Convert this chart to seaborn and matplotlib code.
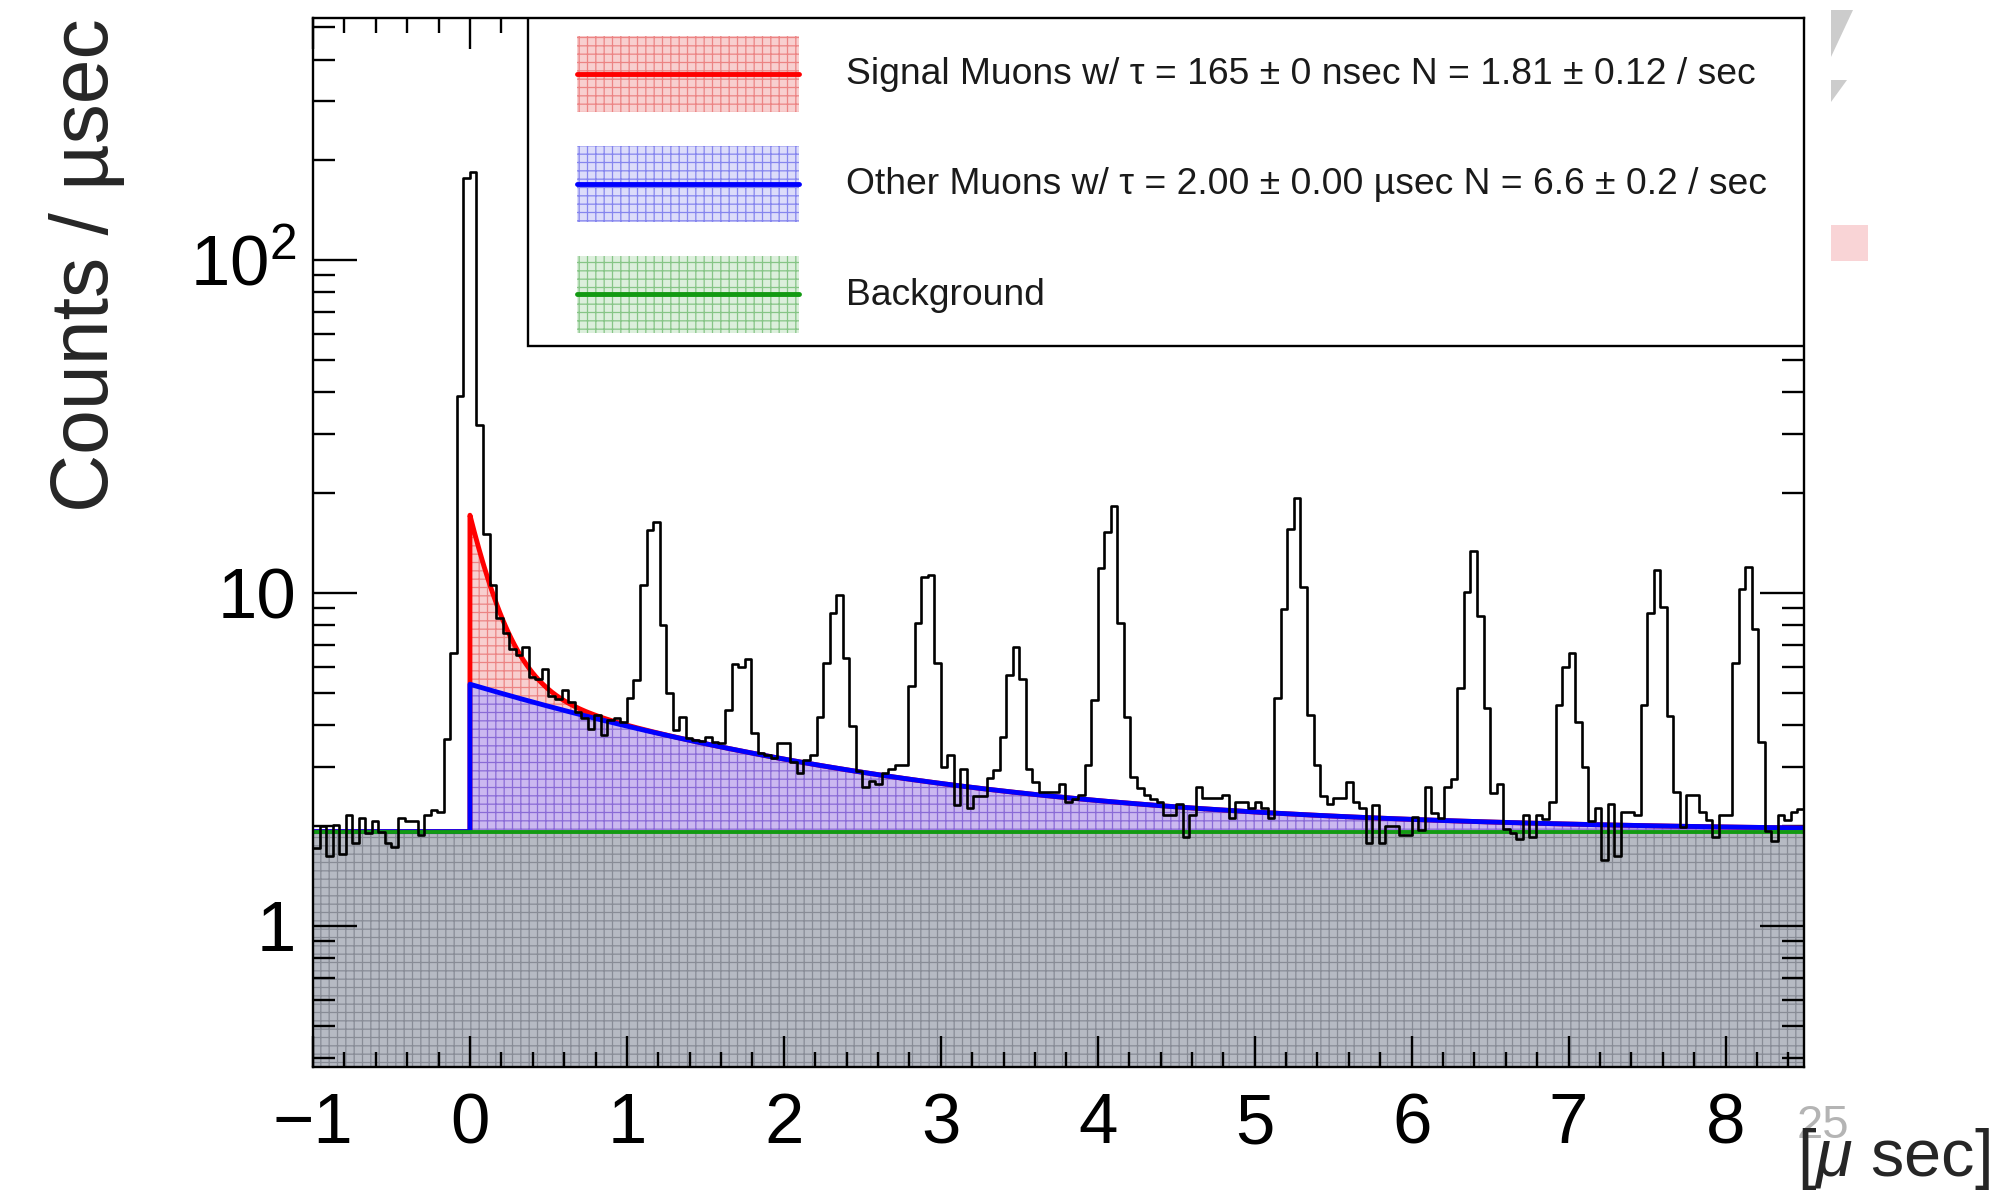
import numpy as np
import pandas as pd
import matplotlib
matplotlib.use("Agg")
import matplotlib.pyplot as plt
from matplotlib.patches import Rectangle, Polygon
from matplotlib.lines import Line2D
from matplotlib.legend_handler import HandlerBase
from matplotlib.ticker import FixedLocator, FuncFormatter, MultipleLocator, NullFormatter
import seaborn as sns

sns.set_style("ticks")
plt.rcParams["font.family"] = ["Liberation Sans", "DejaVu Sans"]
plt.rcParams["mathtext.fontset"] = "custom"
plt.rcParams["mathtext.rm"] = "Liberation Sans"
plt.rcParams["mathtext.it"] = "Liberation Sans:italic"
plt.rcParams["hatch.linewidth"] = 0.9
plt.rcParams["axes.unicode_minus"] = True

# ---- decay-time histogram: counts / µsec, 24 bins per µsec from -1 to 8.5 µsec ----
T_MIN, T_MAX = -1.0, 8.5

counts_neg1 = [1.72, 1.99, 1.62, 2.01, 1.65, 2.15, 1.77, 2.11, 1.90, 2.06, 1.92, 1.77,
               1.73, 2.11, 2.06, 2.06, 1.88, 2.15, 2.23, 2.20, 3.65, 6.6, 39.0, 176.0]
counts_0 = [184.0, 32.0, 15.0, 10.6, 8.4, 7.6, 6.8, 6.5, 6.9, 5.6, 5.5, 5.9,
            4.9, 4.8, 5.1, 4.7, 4.4, 4.2, 3.9, 4.3, 3.75, 4.16, 4.2, 4.1]
counts_1 = [4.84, 5.48, 10.6, 15.5, 16.3, 8.0, 5.0, 3.88, 4.24, 3.67, 3.62, 3.6,
            3.7, 3.56, 3.55, 4.45, 6.1, 6.0, 6.35, 3.8, 3.3, 3.26, 3.2, 3.55]
counts_2 = [3.55, 3.1, 2.88, 3.15, 3.26, 4.25, 6.17, 8.73, 9.86, 6.36, 3.98, 2.91,
            2.62, 2.72, 2.66, 2.87, 2.97, 3.04, 3.04, 5.26, 8.1, 11.2, 11.3, 6.15]
counts_3 = [3.0, 3.26, 2.31, 2.95, 2.26, 2.45, 2.45, 2.78, 2.94, 3.7, 5.67, 6.9,
            5.5, 2.97, 2.7, 2.53, 2.53, 2.53, 2.66, 2.36, 2.4, 2.47, 3.04, 4.77]
counts_4 = [11.9, 15.2, 18.3, 8.1, 4.23, 2.8, 2.59, 2.47, 2.4, 2.36, 2.15, 2.15,
            2.33, 1.85, 2.15, 2.62, 2.42, 2.42, 2.42, 2.47, 2.11, 2.36, 2.36, 2.26]
counts_5 = [2.36, 2.26, 2.11, 4.83, 8.97, 15.6, 19.3, 10.4, 4.3, 3.04, 2.45, 2.33,
            2.42, 2.42, 2.71, 2.36, 2.26, 1.77, 2.31, 1.77, 1.99, 1.99, 1.88, 1.88]
counts_6 = [2.13, 1.94, 2.62, 2.18, 2.11, 2.62, 2.76, 5.2, 10.1, 13.4, 8.5, 4.5,
            2.5, 2.66, 1.96, 1.9, 1.83, 2.15, 1.85, 2.15, 2.1, 2.36, 4.6, 6.0]
counts_7 = [6.6, 4.1, 3.0, 2.06, 2.26, 1.58, 2.33, 1.62, 2.2, 2.2, 2.15, 4.6,
            8.7, 11.7, 9.1, 4.26, 2.53, 1.98, 2.47, 2.47, 2.2, 2.08, 1.85, 2.15]
counts_8 = [2.15, 6.15, 10.3, 12.0, 7.8, 3.58, 1.93, 1.8, 2.15, 2.08, 2.2, 2.25]

# ---- fit components ----
TAU_SIGNAL = 0.165   # µsec
TAU_OTHER = 2.00     # µsec
BKG_LEVEL = 1.92
AMP_OTHER = 3.40
AMP_SIGNAL = 11.8

legend_labels = [
    "Signal Muons w/ \u03c4 = 165 \u00b1 0 nsec N = 1.81 \u00b1 0.12 / sec",
    "Other Muons w/ \u03c4 = 2.00 \u00b1 0.00 \u00b5sec N = 6.6 \u00b1 0.2 / sec",
    "Background",
]

x_ticks = [-1, 0, 1, 2, 3, 4, 5, 6, 7, 8]
y_ticks = [1, 10, 100]
y_tick_text = {1: "1", 10: "10", 100: "$10^{2}$"}
Y_LO, Y_HI = 0.377, 533.0

RED, BLUE, GREEN = "#ff0000", "#0000ff", "#129a12"
GRAY_FACE, GRAY_HATCH = "#b6bac3", "#888c96"
PURPLE_FACE, PURPLE_HATCH = "#cbb8f0", "#8a6bd6"
PINK_FACE, PINK_HATCH = "#f8cfcf", "#ec8484"

counts = np.array(counts_neg1 + counts_0 + counts_1 + counts_2 + counts_3 +
                  counts_4 + counts_5 + counts_6 + counts_7 + counts_8)
edges = np.linspace(T_MIN, T_MAX, len(counts) + 1)
centers = 0.5 * (edges[:-1] + edges[1:])
hist_df = pd.DataFrame({"t": centers, "rate": counts})

t = np.linspace(0.0, T_MAX, 900)
bkg_curve = np.full_like(t, BKG_LEVEL)
other_curve = bkg_curve + AMP_OTHER * np.exp(-t / TAU_OTHER)
signal_curve = other_curve + AMP_SIGNAL * np.exp(-t / TAU_SIGNAL)


class FitBand:
    """Legend key: hatched band with the fit line through its middle."""
    def __init__(self, face, hatch_color, line_color):
        self.face, self.hatch_color, self.line_color = face, hatch_color, line_color


class FitBandHandler(HandlerBase):
    def create_artists(self, legend, orig_handle, xdescent, ydescent, width, height,
                       fontsize, trans):
        x0, y0 = -xdescent, -ydescent
        band = Rectangle((x0, y0), width, height, facecolor=orig_handle.face,
                         edgecolor=orig_handle.hatch_color, hatch="++", linewidth=0,
                         transform=trans)
        yc = y0 + height / 2
        line = Line2D([x0, x0 + width], [yc, yc], color=orig_handle.line_color, lw=3.5,
                      transform=trans)
        return [band, line]


fig = plt.figure(figsize=(19.97, 11.96), dpi=100)
ax = fig.add_axes([313 / 1997, 1 - 1067 / 1196, 1491 / 1997, 1049 / 1196])
ax.set_axisbelow("line")

# stacked fit regions
ax.fill_between([T_MIN, T_MAX], Y_LO * 0.5, BKG_LEVEL, facecolor=GRAY_FACE,
                edgecolor=GRAY_HATCH, hatch="++", linewidth=0, zorder=1)
ax.fill_between(t, bkg_curve, other_curve, facecolor=PURPLE_FACE,
                edgecolor=PURPLE_HATCH, hatch="++", linewidth=0, zorder=1)
ax.fill_between(t, other_curve, signal_curve, facecolor=PINK_FACE,
                edgecolor=PINK_HATCH, hatch="++", linewidth=0, zorder=1)

# fit curves, flat at the background level before t = 0
x_line = np.concatenate([[T_MIN, 0.0], t])
ax.plot(x_line, np.concatenate([[BKG_LEVEL] * 2, signal_curve]), color=RED, lw=3.5, zorder=2)
ax.plot(x_line, np.concatenate([[BKG_LEVEL] * 2, other_curve]), color=BLUE, lw=3.5, zorder=2.1)
ax.plot([T_MIN, T_MAX], [BKG_LEVEL, BKG_LEVEL], color=GREEN, lw=2.8, zorder=2.2)

# data histogram
sns.histplot(data=hist_df, x="t", weights="rate", bins=edges.tolist(), element="step",
             fill=False, color="black", linewidth=1.9, zorder=3, ax=ax)

ax.set_yscale("log")
ax.set_xlim(T_MIN, T_MAX)
ax.set_ylim(Y_LO, Y_HI)

ax.xaxis.set_major_locator(FixedLocator(x_ticks))
ax.xaxis.set_minor_locator(MultipleLocator(0.2))
ax.yaxis.set_major_locator(FixedLocator(y_ticks))
minor_y = [v * d for d in (0.1, 1, 10, 100) for v in range(2, 10)]
ax.yaxis.set_minor_locator(FixedLocator([m for m in minor_y if Y_LO < m < Y_HI]))
ax.yaxis.set_major_formatter(FuncFormatter(lambda v, p: y_tick_text.get(int(round(v)), "")))
ax.yaxis.set_minor_formatter(NullFormatter())

ax.tick_params(which="both", direction="in", top=True, right=True, width=1.7, colors="black")
ax.tick_params(axis="x", which="major", length=22.5, labelsize=51, pad=18)
ax.tick_params(axis="x", which="minor", length=11)
ax.tick_params(axis="y", which="major", length=32, labelsize=51, pad=12)
ax.tick_params(axis="y", which="minor", length=16)
for s in ax.spines.values():
    s.set_linewidth(1.7)
    s.set_color("black")

ax.set_xlabel("")
ax.set_ylabel("Counts / \u00b5sec", fontsize=58, loc="top")
ax.yaxis.set_label_coords(-0.126, 1.0)

# legend frame and entries
legend_box = Rectangle((0.144, 0.687), 0.856, 0.313, transform=ax.transAxes,
                       facecolor="white", edgecolor="black", linewidth=1.7, zorder=4)
ax.add_patch(legend_box)
keys = [
    FitBand(PINK_FACE, PINK_HATCH, RED),
    FitBand("#dcdcfa", "#8585ee", BLUE),
    FitBand("#dcefdc", "#86c586", GREEN),
]
leg = ax.legend(keys, legend_labels, handler_map={FitBand: FitBandHandler()},
                loc="upper left", bbox_to_anchor=(0.177, 0.983),
                frameon=False, fontsize=25, borderpad=0, borderaxespad=0,
                handlelength=6.4, handleheight=3.0, labelspacing=0.98, handletextpad=1.35)
leg.set_zorder(5)
for txt in leg.get_texts():
    txt.set_color("#1a1a1a")
    txt.set_fontsize(26.8)

# axis unit label and page furniture at the right edge
fig.text(1823 / 1997, 1 - 1126 / 1196, "25", fontsize=34, color="#b4b4b4",
         ha="center", va="center")
fig.text(1990 / 1997, 1 - 1192 / 1196, r"[$\mu$ sec]", fontsize=48, ha="right", va="bottom")
fig.add_artist(Polygon([[1831 / 1997, 1 - 10 / 1196], [1853 / 1997, 1 - 10 / 1196],
                        [1831 / 1997, 1 - 57 / 1196]], closed=True,
                       transform=fig.transFigure, facecolor="#cccccc", edgecolor="none"))
fig.add_artist(Polygon([[1831 / 1997, 1 - 80 / 1196], [1847 / 1997, 1 - 80 / 1196],
                        [1831 / 1997, 1 - 102 / 1196]], closed=True,
                       transform=fig.transFigure, facecolor="#cccccc", edgecolor="none"))
fig.add_artist(Rectangle((1831 / 1997, 1 - 261 / 1196), 37 / 1997, 36 / 1196,
                         transform=fig.transFigure, facecolor="#f9d4d6", edgecolor="none"))

fig.savefig("out.png", dpi=100)
